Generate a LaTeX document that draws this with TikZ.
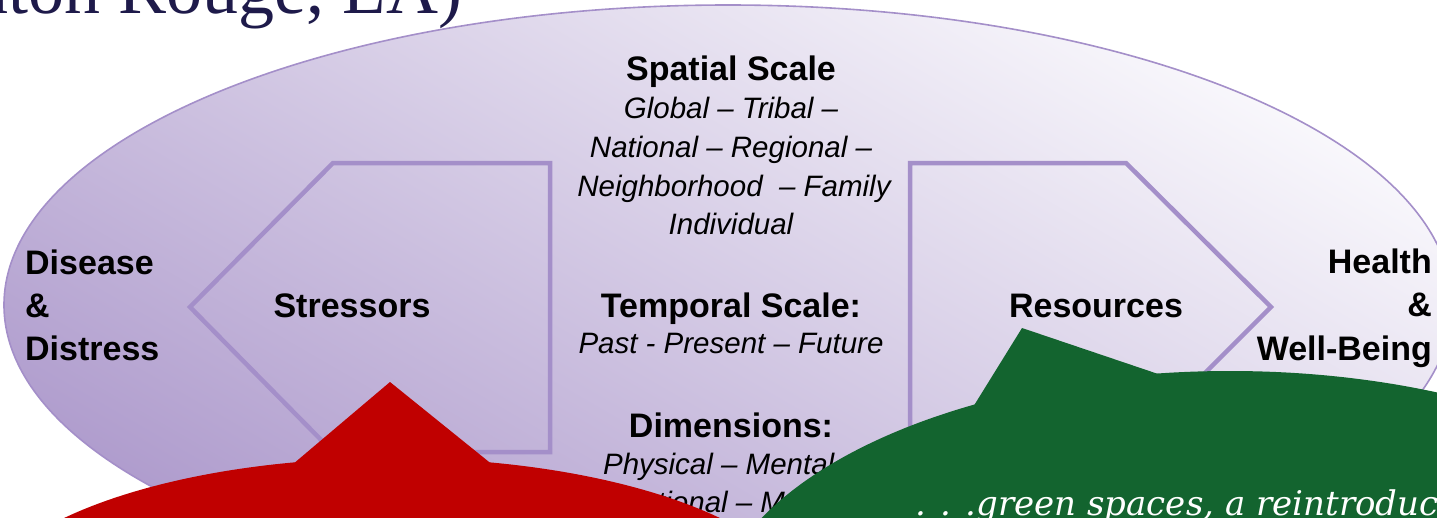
\documentclass[tikz,border=0pt]{standalone}
\usepackage{fontspec}
\setmainfont{Liberation Sans}
\newfontfamily\titlefont{Liberation Serif}
\newfontfamily\bubblefont{DejaVu Serif}
\definecolor{lavline}{HTML}{A48FC9}
\definecolor{lavdark}{HTML}{AF9CCD}
\definecolor{lavmid}{HTML}{E2DCEE}
\definecolor{lavlight}{HTML}{F9F8FC}
\definecolor{navy}{HTML}{1E1A4A}
\definecolor{redb}{HTML}{C00000}
\definecolor{greenb}{HTML}{13642F}
\tikzset{
  penline/.style={draw=lavline, line width=4.5pt, line join=miter},
  hd/.style={font=\bfseries\fontsize{34}{40}\selectfont, anchor=base, inner sep=0pt},
  itl/.style={font=\itshape\fontsize{29.5}{34}\selectfont, anchor=base, inner sep=0pt},
  sidel/.style={font=\bfseries\fontsize{34}{40}\selectfont, anchor=base west, inner sep=0pt},
  sider/.style={font=\bfseries\fontsize{34}{40}\selectfont, anchor=base east, inner sep=0pt},
  redbubble/.style={fill=redb},
  greenbubble/.style={fill=greenb}
}
\begin{document}
\begin{tikzpicture}[x=1pt,y=-1pt]
\useasboundingbox (0,0) rectangle (1437,517);
\clip (0,0) rectangle (1437,517);
% title remnant
\node[anchor=base east, font=\titlefont\fontsize{72}{84}\selectfont, text=navy, inner sep=0pt] (title) at (463,13) {Baton Rouge, LA)};
% big ellipse
\shade[draw=lavline, line width=1.6pt, left color=lavlight, middle color=lavmid, right color=lavdark, shading angle=-30]
  (728,305) ellipse [x radius=724pt, y radius=300pt];
% pentagon arrows
\coordinate (s1) at (333,163); \coordinate (s2) at (550,163); \coordinate (s3) at (550,452);
\coordinate (s4) at (333,452); \coordinate (s5) at (190,307);
\draw[penline] (s1) -- (s2) -- (s3) -- (s4) -- (s5) -- cycle;
\coordinate (r1) at (910,163); \coordinate (r2) at (1126,163); \coordinate (r3) at (1271,307);
\coordinate (r4) at (1126,452); \coordinate (r5) at (910,452);
\draw[penline] (r1) -- (r2) -- (r3) -- (r4) -- (r5) -- cycle;
% center texts
\node[hd] (sp) at (731,80) {Spatial Scale};
\node[itl] (sp1) at (731,118) {Global -- Tribal --};
\node[itl] (sp2) at (731,157) {National -- Regional --};
\node[itl] (sp3) at (734,196) {Neighborhood\ \ -- Family};
\node[itl] (sp4) at (731,234) {Individual};
\node[hd] (tp) at (731,317) {Temporal Scale:};
\node[itl] (tp1) at (731,353) {Past - Present -- Future};
\node[hd] (dm) at (731,437) {Dimensions:};
\node[itl] (dm1) at (731,474) {Physical -- Mental --};
\node[itl] (dm2) at (731,512) {Emotional -- Material};
% arrow labels
\node[hd] (st) at (352,317) {Stressors};
\node[hd] (rs) at (1096,317) {Resources};
% sides
\node[sidel] (d1) at (25,274) {Disease};
\node[sidel] (d2) at (25,317) {\&};
\node[sidel] (d3) at (25,360) {Distress};
\node[sider] (h1) at (1432,273) {Health};
\node[sider] (h2) at (1432,316) {\&};
\node[sider] (h3) at (1432,360) {Well-Being};
% red bubble
\fill[redbubble] (392,618) ellipse [x radius=420pt, y radius=160pt];
\fill[redbubble] (286,470) -- (390,382) -- (499,470) -- cycle;
% green bubble
\fill[greenbubble] (1230,631) ellipse [x radius=520pt, y radius=260pt];
\fill[greenbubble] (965,420) -- (1022,328) -- (1170,378) -- cycle;
\node[anchor=base west, font=\bubblefont\itshape\fontsize{34}{40}\selectfont, text=white, inner sep=0pt] (gtxt) at (915,515) {. . .green spaces, a reintroduction};
\end{tikzpicture}
\end{document}
